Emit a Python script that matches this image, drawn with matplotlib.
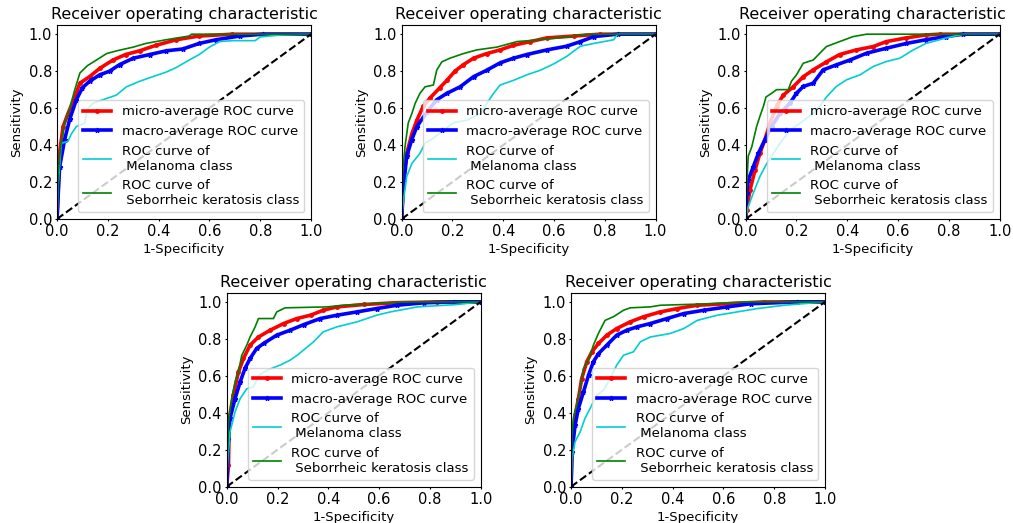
"""Five ROC panels (micro/macro average + per-class curves) in a 3 + 2 grid."""

import matplotlib

matplotlib.use("Agg")
import matplotlib.pyplot as plt

# ---- panel 1 -------------------------------------------------------------
micro_fpr_1 = [0, 0.01, 0.024, 0.043, 0.07, 0.09, 0.128, 0.168, 0.22, 0.27, 0.325, 0.39, 0.47, 0.56, 0.69, 1.0]
micro_tpr_1 = [0, 0.36, 0.50, 0.57, 0.66, 0.735, 0.77, 0.815, 0.86, 0.89, 0.91, 0.94, 0.97, 0.99, 1.0, 1.0]
macro_fpr_1 = [0, 0.01, 0.03, 0.05, 0.076, 0.10, 0.128, 0.168, 0.207, 0.246, 0.30, 0.365, 0.43, 0.495, 0.56, 0.626, 0.72, 0.81, 1.0]
macro_tpr_1 = [0, 0.28, 0.43, 0.54, 0.645, 0.71, 0.745, 0.78, 0.80, 0.835, 0.87, 0.89, 0.91, 0.92, 0.95, 0.97, 0.99, 1.0, 1.0]
mel_fpr_1 = [0, 0.004, 0.017, 0.043, 0.056, 0.076, 0.11, 0.118, 0.14, 0.18, 0.233, 0.273, 0.325, 0.377, 0.43, 0.47, 0.52, 0.56, 0.60, 0.64, 0.69, 0.78, 0.80, 0.875, 1.0]
mel_tpr_1 = [0, 0.175, 0.41, 0.42, 0.46, 0.50, 0.52, 0.59, 0.625, 0.645, 0.67, 0.715, 0.745, 0.77, 0.795, 0.82, 0.86, 0.89, 0.93, 0.96, 0.965, 0.965, 0.985, 0.995, 1.0]
seb_fpr_1 = [0, 0.005, 0.015, 0.03, 0.05, 0.07, 0.09, 0.12, 0.155, 0.195, 0.235, 0.30, 0.35, 0.43, 0.52, 0.53, 1.0]
seb_tpr_1 = [0, 0.25, 0.40, 0.52, 0.60, 0.70, 0.79, 0.83, 0.86, 0.895, 0.91, 0.93, 0.95, 0.97, 0.99, 1.0, 1.0]

# ---- panel 2 -------------------------------------------------------------
micro_fpr_2 = [0, 0.007, 0.02, 0.04, 0.06, 0.085, 0.112, 0.15, 0.178, 0.21, 0.243, 0.283, 0.335, 0.388, 0.44, 0.507, 0.572, 0.678, 0.78, 1.0]
micro_tpr_2 = [0, 0.21, 0.355, 0.46, 0.535, 0.61, 0.655, 0.71, 0.75, 0.80, 0.835, 0.87, 0.895, 0.915, 0.94, 0.96, 0.98, 0.99, 1.0, 1.0]
macro_fpr_2 = [0, 0.007, 0.02, 0.04, 0.06, 0.10, 0.138, 0.178, 0.23, 0.283, 0.335, 0.388, 0.44, 0.493, 0.572, 0.65, 0.704, 0.757, 0.85, 1.0]
macro_tpr_2 = [0, 0.175, 0.34, 0.43, 0.50, 0.58, 0.645, 0.68, 0.715, 0.77, 0.805, 0.845, 0.87, 0.89, 0.915, 0.935, 0.96, 0.987, 1.0, 1.0]
mel_fpr_2 = [0, 0.007, 0.02, 0.04, 0.072, 0.092, 0.125, 0.164, 0.204, 0.257, 0.31, 0.335, 0.362, 0.388, 0.44, 0.493, 0.546, 0.60, 0.65, 0.704, 0.757, 0.835, 0.85, 1.0]
mel_tpr_2 = [0, 0.10, 0.23, 0.30, 0.355, 0.41, 0.437, 0.48, 0.52, 0.535, 0.57, 0.625, 0.68, 0.725, 0.75, 0.78, 0.805, 0.84, 0.88, 0.935, 0.95, 0.97, 1.0, 1.0]
seb_fpr_2 = [0, 0.004, 0.013, 0.026, 0.04, 0.053, 0.072, 0.092, 0.125, 0.138, 0.158, 0.19, 0.243, 0.296, 0.375, 0.454, 0.546, 0.65, 0.73, 1.0]
seb_tpr_2 = [0, 0.25, 0.39, 0.52, 0.57, 0.625, 0.68, 0.715, 0.725, 0.805, 0.85, 0.87, 0.895, 0.915, 0.93, 0.96, 0.97, 0.985, 1.0, 1.0]

# ---- panel 3 -------------------------------------------------------------
micro_fpr_3 = [0, 0.004, 0.017, 0.037, 0.056, 0.076, 0.096, 0.122, 0.148, 0.187, 0.227, 0.266, 0.318, 0.37, 0.436, 0.502, 0.554, 0.633, 0.71, 0.764, 1.0]
micro_tpr_3 = [0, 0.05, 0.157, 0.265, 0.355, 0.43, 0.52, 0.61, 0.67, 0.715, 0.77, 0.807, 0.85, 0.89, 0.915, 0.933, 0.96, 0.98, 0.996, 1.0, 1.0]
macro_fpr_3 = [0, 0.004, 0.01, 0.03, 0.05, 0.076, 0.102, 0.135, 0.174, 0.20, 0.227, 0.266, 0.305, 0.357, 0.41, 0.476, 0.554, 0.633, 0.71, 0.79, 0.856, 1.0]
macro_tpr_3 = [0, 0.14, 0.21, 0.283, 0.355, 0.43, 0.50, 0.572, 0.626, 0.68, 0.717, 0.735, 0.807, 0.834, 0.86, 0.897, 0.924, 0.95, 0.97, 0.987, 1.0, 1.0]
mel_fpr_3 = [0, 0.01, 0.03, 0.056, 0.083, 0.109, 0.135, 0.174, 0.214, 0.266, 0.292, 0.318, 0.357, 0.397, 0.45, 0.502, 0.554, 0.607, 0.66, 0.71, 0.79, 0.856, 1.0]
mel_tpr_3 = [0, 0.067, 0.14, 0.23, 0.30, 0.355, 0.41, 0.48, 0.518, 0.572, 0.61, 0.66, 0.717, 0.753, 0.78, 0.825, 0.852, 0.87, 0.915, 0.95, 0.98, 1.0, 1.0]
seb_fpr_3 = [0, 0.004, 0.01, 0.024, 0.043, 0.056, 0.07, 0.08, 0.102, 0.122, 0.168, 0.18, 0.20, 0.227, 0.266, 0.292, 0.318, 0.37, 0.423, 0.476, 1.0]
seb_tpr_3 = [0, 0.175, 0.34, 0.39, 0.50, 0.555, 0.61, 0.66, 0.68, 0.70, 0.70, 0.745, 0.78, 0.843, 0.86, 0.897, 0.933, 0.96, 0.987, 1.0, 1.0]

# ---- panel 4 -------------------------------------------------------------
micro_fpr_4 = [0, 0.007, 0.01, 0.026, 0.046, 0.066, 0.092, 0.125, 0.171, 0.224, 0.276, 0.33, 0.38, 0.434, 0.54, 0.67, 0.83, 1.0]
micro_tpr_4 = [0, 0.117, 0.37, 0.495, 0.62, 0.694, 0.766, 0.81, 0.847, 0.883, 0.91, 0.928, 0.955, 0.973, 0.986, 0.996, 1.0, 1.0]
macro_fpr_4 = [0, 0.007, 0.013, 0.033, 0.053, 0.072, 0.092, 0.118, 0.145, 0.197, 0.25, 0.303, 0.368, 0.434, 0.513, 0.59, 0.67, 0.776, 0.895, 1.0]
macro_tpr_4 = [0, 0.26, 0.37, 0.477, 0.567, 0.64, 0.694, 0.748, 0.775, 0.82, 0.847, 0.877, 0.91, 0.928, 0.946, 0.964, 0.982, 0.995, 1.0, 1.0]
mel_fpr_4 = [0, 0.003, 0.013, 0.033, 0.053, 0.079, 0.105, 0.125, 0.158, 0.21, 0.25, 0.276, 0.303, 0.342, 0.38, 0.434, 0.513, 0.59, 0.645, 0.75, 0.908, 1.0]
mel_tpr_4 = [0, 0.117, 0.297, 0.405, 0.477, 0.53, 0.54, 0.60, 0.63, 0.658, 0.685, 0.71, 0.74, 0.784, 0.838, 0.865, 0.892, 0.928, 0.946, 0.973, 0.986, 1.0]
seb_fpr_4 = [0, 0.003, 0.007, 0.02, 0.033, 0.046, 0.059, 0.079, 0.092, 0.112, 0.125, 0.184, 0.197, 0.23, 0.395, 0.46, 0.566, 0.70, 1.0]
seb_tpr_4 = [0, 0.19, 0.35, 0.477, 0.567, 0.62, 0.71, 0.766, 0.81, 0.865, 0.91, 0.91, 0.946, 0.968, 0.973, 0.982, 0.99, 1.0, 1.0]

# ---- panel 5 -------------------------------------------------------------
micro_fpr_5 = [0, 0.004, 0.016, 0.029, 0.042, 0.062, 0.082, 0.108, 0.141, 0.18, 0.233, 0.286, 0.352, 0.418, 0.497, 0.615, 0.76, 1.0]
micro_tpr_5 = [0, 0.225, 0.387, 0.477, 0.585, 0.676, 0.73, 0.775, 0.82, 0.856, 0.892, 0.92, 0.946, 0.964, 0.982, 0.99, 1.0, 1.0]
macro_fpr_5 = [0, 0.004, 0.016, 0.029, 0.049, 0.069, 0.088, 0.108, 0.141, 0.18, 0.22, 0.26, 0.312, 0.378, 0.444, 0.523, 0.615, 0.708, 0.89, 1.0]
macro_tpr_5 = [0, 0.19, 0.333, 0.423, 0.513, 0.604, 0.676, 0.72, 0.766, 0.82, 0.847, 0.865, 0.883, 0.91, 0.937, 0.955, 0.973, 0.99, 1.0, 1.0]
mel_fpr_5 = [0, 0.004, 0.016, 0.036, 0.055, 0.075, 0.101, 0.128, 0.154, 0.18, 0.207, 0.246, 0.273, 0.312, 0.39, 0.444, 0.497, 0.576, 0.655, 0.734, 0.84, 1.0]
mel_tpr_5 = [0, 0.153, 0.243, 0.297, 0.37, 0.423, 0.495, 0.522, 0.585, 0.658, 0.712, 0.73, 0.784, 0.81, 0.829, 0.856, 0.90, 0.928, 0.946, 0.964, 0.982, 1.0]
seb_fpr_5 = [0, 0.003, 0.009, 0.022, 0.036, 0.049, 0.069, 0.088, 0.108, 0.134, 0.167, 0.207, 0.233, 0.312, 0.352, 0.55, 0.68, 1.0]
seb_tpr_5 = [0, 0.26, 0.37, 0.44, 0.53, 0.64, 0.685, 0.766, 0.83, 0.90, 0.92, 0.955, 0.968, 0.973, 0.982, 0.99, 1.0, 1.0]

PANELS = [
    (micro_fpr_1, micro_tpr_1, macro_fpr_1, macro_tpr_1, mel_fpr_1, mel_tpr_1, seb_fpr_1, seb_tpr_1),
    (micro_fpr_2, micro_tpr_2, macro_fpr_2, macro_tpr_2, mel_fpr_2, mel_tpr_2, seb_fpr_2, seb_tpr_2),
    (micro_fpr_3, micro_tpr_3, macro_fpr_3, macro_tpr_3, mel_fpr_3, mel_tpr_3, seb_fpr_3, seb_tpr_3),
    (micro_fpr_4, micro_tpr_4, macro_fpr_4, macro_tpr_4, mel_fpr_4, mel_tpr_4, seb_fpr_4, seb_tpr_4),
    (micro_fpr_5, micro_tpr_5, macro_fpr_5, macro_tpr_5, mel_fpr_5, mel_tpr_5, seb_fpr_5, seb_tpr_5),
]

TICKS = [0.0, 0.2, 0.4, 0.6, 0.8, 1.0]

# axes boxes in figure fractions: left, bottom, width, height
BOXES = [
    (0.0563, 0.5813, 0.2507, 0.371),
    (0.3965, 0.5813, 0.2507, 0.371),
    (0.7361, 0.5813, 0.2507, 0.371),
    (0.2238, 0.0694, 0.2507, 0.371),
    (0.5637, 0.0694, 0.2507, 0.371),
]


def draw_panel(ax, data):
    mi_x, mi_y, ma_x, ma_y, me_x, me_y, sb_x, sb_y = data
    ax.plot(mi_x, mi_y, color="red", lw=2.6, marker=".", ms=5, label="micro-average ROC curve")
    ax.plot(ma_x, ma_y, color="blue", lw=2.6, marker="*", ms=3.5, label="macro-average ROC curve")
    ax.plot(me_x, me_y, color="darkturquoise", lw=1.2, label="ROC curve of\n Melanoma class")
    ax.plot(sb_x, sb_y, color="green", lw=1.2, label="ROC curve of\n Seborrheic keratosis class")
    ax.plot([0, 1], [0, 1], "k--", lw=1.5)

    ax.set_xlim(0.0, 1.0)
    ax.set_ylim(0.0, 1.05)
    ax.set_xticks(TICKS)
    ax.set_yticks(TICKS)
    ax.tick_params(labelsize=10.5, length=1.5, pad=2)
    ax.set_xlabel("1-Specificity", fontsize=9.5, labelpad=3)
    ax.set_ylabel("Sensitivity", fontsize=9.5, labelpad=4)
    ax.set_title("Receiver operating characteristic", fontsize=11.5, pad=4)
    ax.legend(loc="lower right", fontsize=9.5, handlelength=2.1)


def main():
    fig = plt.figure(figsize=(10.13, 5.23), dpi=100)
    for box, data in zip(BOXES, PANELS):
        ax = fig.add_axes(box)
        draw_panel(ax, data)
    fig.savefig("out.png", dpi=100, facecolor="white")
    plt.close(fig)


if __name__ == "__main__":
    main()
